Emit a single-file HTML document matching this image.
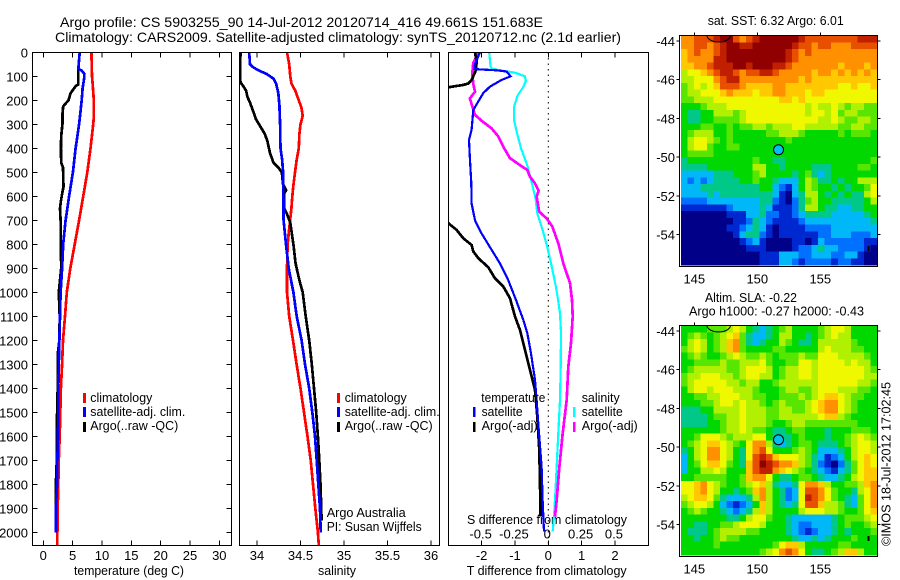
<!DOCTYPE html>
<html>
<head>
<meta charset="utf-8">
<title>Argo profile</title>
<style>
html,body{margin:0;padding:0;background:#fff}
svg{display:block}
text{font-family:"Liberation Sans",sans-serif;font-size:13px;fill:#000}
.big{font-size:14px}
</style>
</head>
<body>
<svg id="chart" xmlns="http://www.w3.org/2000/svg" width="900" height="580" viewBox="0 0 900 580">
<rect x="0" y="0" width="900" height="580" fill="#fff"/>
<defs>
<clipPath id="clip1"><rect x="32" y="52" width="199.5" height="493.5"/></clipPath>
<clipPath id="clip2"><rect x="239" y="52" width="200.5" height="493.5"/></clipPath>
<clipPath id="clip3"><rect x="448" y="52" width="200.5" height="493.5"/></clipPath>
<clipPath id="clipM1"><rect x="679" y="35" width="198.5" height="232"/></clipPath>
<clipPath id="clipM2"><rect x="679" y="325" width="198.5" height="232"/></clipPath>
</defs>
<text class="big" x="60" y="27" textLength="483" lengthAdjust="spacingAndGlyphs">Argo profile: CS 5903255_90 14-Jul-2012 20120714_416 49.661S 151.683E</text>
<text class="big" x="55" y="42" textLength="566" lengthAdjust="spacingAndGlyphs">Climatology: CARS2009. Satellite-adjusted climatology: synTS_20120712.nc (2.1d earlier)</text>

<text x="74" y="575" textLength="110" lengthAdjust="spacingAndGlyphs">temperature (deg C)</text>
<text x="318" y="575" textLength="38" lengthAdjust="spacingAndGlyphs">salinity</text>
<text x="466.7" y="575" textLength="160" lengthAdjust="spacingAndGlyphs">T difference from climatology</text>
<text x="467" y="524" textLength="160" lengthAdjust="spacingAndGlyphs">S difference from climatology</text>

<g id="plots"></g>

<g>
<rect x="83" y="393" width="3" height="10" fill="#ff0000"/>
<rect x="83" y="407" width="3" height="10" fill="#0000ff"/>
<rect x="83" y="422" width="3" height="10" fill="#000"/>
<text x="90.3" y="402" textLength="62" lengthAdjust="spacingAndGlyphs">climatology</text>
<text x="90.3" y="416" textLength="95" lengthAdjust="spacingAndGlyphs">satellite-adj. clim.</text>
<text x="90.3" y="430" textLength="88" lengthAdjust="spacingAndGlyphs">Argo(..raw -QC)</text>
</g>
<g>
<rect x="337" y="393" width="3" height="10" fill="#ff0000"/>
<rect x="337" y="407" width="3" height="10" fill="#0000ff"/>
<rect x="337" y="422" width="3" height="10" fill="#000"/>
<text x="344.7" y="402" textLength="62" lengthAdjust="spacingAndGlyphs">climatology</text>
<text x="344.7" y="416" textLength="95" lengthAdjust="spacingAndGlyphs">satellite-adj. clim.</text>
<text x="344.7" y="430" textLength="88" lengthAdjust="spacingAndGlyphs">Argo(..raw -QC)</text>
<text x="326.7" y="517" textLength="79" lengthAdjust="spacingAndGlyphs">Argo Australia</text>
<text x="326.7" y="531" textLength="95" lengthAdjust="spacingAndGlyphs">PI: Susan Wijffels</text>
</g>
<g>
<text x="481.3" y="402" textLength="64" lengthAdjust="spacingAndGlyphs">temperature</text>
<rect x="473" y="407" width="2.5" height="10" fill="#0000ff"/>
<rect x="473" y="422" width="2.5" height="10" fill="#000"/>
<text x="481.6" y="416" textLength="41" lengthAdjust="spacingAndGlyphs">satellite</text>
<text x="481.6" y="430" textLength="56" lengthAdjust="spacingAndGlyphs">Argo(-adj)</text>
<text x="581.7" y="402" textLength="38" lengthAdjust="spacingAndGlyphs">salinity</text>
<rect x="573" y="407" width="2.5" height="10" fill="#00ffff"/>
<rect x="573" y="422" width="2.5" height="10" fill="#ff00ff"/>
<text x="581.7" y="416" textLength="41" lengthAdjust="spacingAndGlyphs">satellite</text>
<text x="581.7" y="430" textLength="56" lengthAdjust="spacingAndGlyphs">Argo(-adj)</text>
</g>

<text x="707.7" y="25" textLength="136" lengthAdjust="spacingAndGlyphs">sat. SST: 6.32 Argo: 6.01</text>
<text x="705" y="302" textLength="92" lengthAdjust="spacingAndGlyphs">Altim. SLA: -0.22</text>
<text x="689" y="315.5" textLength="175" lengthAdjust="spacingAndGlyphs">Argo h1000: -0.27 h2000: -0.43</text>
<text transform="translate(890.5,546) rotate(-90)" x="0" y="0" textLength="164" lengthAdjust="spacingAndGlyphs">©IMOS 18-Jul-2012 17:02:45</text>
</svg>

<script>
/* ---------- profile axis tick values ---------- */
const depthTicks = [0,100,200,300,400,500,600,700,800,900,1000,1100,1200,1300,1400,1500,1600,1700,1800,1900,2000];
const tempTicks = [0,5,10,15,20,25,30];
const salTicks = [34,34.5,35,35.5,36];
const salTickLabels = ['34','34.5','35','35.5','36'];
const tdiffTicks = [-2,-1,0,1,2];
const sdiffTicks = [-0.5,-0.25,0,0.25,0.5];
const sdiffTickLabels = ['-0.5','-0.25','0','0.25','0.5'];

/* ---------- temperature panel ---------- */
const climDepth = [0,100,130,200,270,300,400,500,600,700,800,900,1000,1100,1200,1300,1400,1500,1600,1700,1800,1900,2000,2054];
const climTemp = [8.2,8.3,8.4,8.6,8.6,8.5,8.05,7.5,6.8,6.1,5.35,4.6,4.0,3.7,3.35,3.2,3.0,2.9,2.8,2.65,2.55,2.45,2.4,2.4];
const satDepth = [0,60,70,75,90,110,150,200,300,400,500,600,700,800,900,1000,1100,1200,1300,1400,1500,1600,1700,1800,1900,2000];
const satTemp = [6.2,6.0,6.0,6.5,7.0,6.95,6.7,6.55,6.1,5.5,5.05,4.4,3.8,3.4,3.2,2.95,2.85,2.75,2.65,2.55,2.55,2.5,2.4,2.35,2.15,2.15];
const argoDepth = [70,135,140,170,200,225,260,300,350,400,460,480,560,590,620,650,700,800,900,950,1000,1100,1200,1260,1400,1560,1700,1830,1950];
const argoTemp = [5.95,5.95,5.55,4.65,4.3,3.4,3.25,3.25,3.05,3.0,3.05,3.35,3.45,3.2,3.0,2.85,2.95,3.0,3.05,2.85,2.65,2.8,2.75,2.45,2.45,2.3,2.3,2.1,2.1];

/* ---------- salinity panel ---------- */
const climSalDepth = [0,50,100,130,160,190,230,265,300,340,400,450,500,550,600,650,700,750,800,900,1000,1100,1200,1300,1400,1500,1600,1700,1800,1900,2000,2054];
const climSal = [34.345,34.37,34.383,34.395,34.44,34.47,34.51,34.525,34.5,34.487,34.48,34.455,34.437,34.42,34.406,34.395,34.38,34.365,34.352,34.345,34.345,34.37,34.414,34.455,34.5,34.54,34.58,34.617,34.644,34.67,34.7,34.71];
const satSalDepth = [0,50,60,75,90,110,130,170,220,300,400,450,500,600,700,800,900,1000,1100,1200,1300,1400,1500,1600,1700,1800,1900,2000];
const satSal = [33.91,33.92,33.946,34.015,34.11,34.19,34.22,34.245,34.257,34.265,34.27,34.29,34.3,34.303,34.306,34.333,34.364,34.418,34.456,34.513,34.552,34.6,34.636,34.667,34.686,34.705,34.724,34.732];
const argoSalDepth = [0,100,125,140,160,185,210,240,280,310,340,370,420,460,480,500,550,575,590,650,670,710,800,880,950,1000,1100,1200,1300,1400,1500,1600,1700,1800,1950];
const argoSal = [33.81,33.805,33.81,33.84,33.875,33.89,33.92,33.95,33.99,34.04,34.09,34.12,34.15,34.19,34.245,34.285,34.3,34.335,34.31,34.31,34.34,34.383,34.418,34.444,34.487,34.525,34.56,34.6,34.63,34.655,34.68,34.7,34.716,34.73,34.743];

/* ---------- difference panel ---------- */
const satTdiffDepth = [0,50,70,75,80,100,115,143,170,205,240,323,365,450,546,630,700,755,823,880,950,1032,1115,1170,1254,1365,1448,1587,1726,1865,1997];
const satTdiff = [-2.05,-2.2,-2.22,-1.55,-1.25,-1.13,-1.4,-1.75,-1.95,-2.1,-2.25,-2.3,-2.38,-2.35,-2.31,-2.3,-2.2,-2.0,-1.7,-1.45,-1.2,-0.97,-0.75,-0.63,-0.52,-0.4,-0.35,-0.28,-0.2,-0.17,-0.13];
const argoTdiffDepth = [0,39,74,115,130,136,146,200,300,400,500,600,712,740,775,803,830,858,896,942,976,1025,1101,1157,1240,1324,1407,1518,1657,1796,1935];
const argoTdiff = [-2.2,-2.15,-2.17,-2.3,-2.4,-2.55,-3,-4.3,-5.25,-5.05,-4.15,-3.7,-3,-2.75,-2.55,-2.3,-2.25,-2.1,-1.8,-1.6,-1.35,-1.15,-1.0,-0.85,-0.7,-0.55,-0.4,-0.33,-0.27,-0.25,-0.23];
const satSdiffDepth = [0,60,67,75,85,100,120,145,180,230,280,330,400,470,540,610,670,740,810,890,970,1030,1087,1170,1310,1448,1587,1726,1865,1935,1997];
const satSdiff = [-0.443,-0.433,-0.425,-0.363,-0.25,-0.175,-0.168,-0.188,-0.23,-0.258,-0.258,-0.238,-0.205,-0.158,-0.125,-0.095,-0.083,-0.043,-0.008,0.025,0.055,0.073,0.088,0.095,0.093,0.088,0.075,0.063,0.05,0.043,0.033];
const argoSdiffDepth = [0,46,88,130,164,192,226,261,285,317,351,393,441,470,490,518,546,576,601,664,692,726,796,880,962,1032,1101,1212,1310,1448,1587,1726,1865,1935];
const argoSdiff = [-0.525,-0.563,-0.57,-0.563,-0.55,-0.588,-0.57,-0.55,-0.5,-0.425,-0.375,-0.338,-0.288,-0.213,-0.158,-0.138,-0.1,-0.073,-0.088,-0.068,-0.013,0.03,0.075,0.113,0.163,0.178,0.183,0.17,0.15,0.138,0.108,0.083,0.063,0.05];

/* ---------- map tick values ---------- */
const lonTicks = [145,150,155];
const latTicks = [-44,-46,-48,-50,-52,-54];
const floatLon = [151.683];
const floatLat = [-49.62];

/* ---------- colour levels of the two maps (0 = navy ... 13 = dark red) ---------- */
const mapLevelColors = ['#000088','#0028d0','#0070ff','#00b8f8','#00c888','#00d800','#58e600','#b0f000','#f0f800','#ffc800','#ff9000','#e85000','#c02000','#900000'];
const sstGrid = [
[10,10,11,11,11,12,13,13,11,10,11,12,13,13,13,13,13,13,12,11,11,11,11,11,11,11,11,12,12,12],
[10,10,11,11,10,11,12,13,13,12,12,13,13,13,13,13,13,12,11,11,10,11,11,10,10,10,11,11,11,11],
[9,10,11,10,10,11,12,13,13,13,13,13,13,13,13,13,12,11,10,11,10,10,10,10,10,10,10,10,10,10],
[9,10,10,10,10,12,12,13,13,13,13,13,13,13,13,13,12,11,10,10,10,10,10,10,10,10,10,10,10,10],
[9,9,10,10,11,12,12,12,13,13,12,13,13,13,12,12,11,10,10,10,10,10,10,10,9,10,10,10,9,10],
[7,8,8,9,10,11,12,12,11,10,11,11,12,12,11,10,10,10,10,10,9,10,10,9,10,9,10,9,10,9],
[7,7,8,8,8,10,11,12,12,10,10,10,10,10,10,10,10,10,9,10,9,9,9,9,9,9,9,9,9,9],
[6,7,8,7,8,9,11,11,11,10,9,9,9,9,10,10,9,9,9,9,9,9,9,9,8,8,9,8,8,9],
[6,7,7,8,8,8,9,10,9,9,9,8,9,9,10,10,9,9,9,8,9,9,8,8,8,8,8,8,8,8],
[6,6,7,7,7,8,8,8,8,8,8,8,8,8,8,9,9,8,9,8,8,8,8,8,8,8,8,8,8,8],
[5,5,5,6,7,7,7,8,8,8,8,8,8,8,8,8,8,8,8,7,8,7,7,8,7,6,7,7,6,6],
[5,4,4,5,5,7,7,7,6,7,8,8,8,8,8,8,8,8,8,7,8,8,7,8,6,7,7,6,6,6],
[5,4,4,5,5,6,6,6,6,7,8,8,8,8,8,8,8,8,8,8,8,7,7,8,7,6,6,7,7,6],
[5,5,5,6,6,5,5,6,5,6,6,7,7,6,7,7,7,8,8,7,7,7,7,7,6,6,7,7,6,6],
[5,6,7,7,7,5,5,6,5,5,5,5,5,6,6,7,7,7,6,5,5,5,5,5,6,5,6,6,6,5],
[5,7,8,8,7,6,5,6,5,5,5,5,5,5,5,5,6,5,5,5,5,5,5,5,5,5,5,5,5,5],
[5,7,8,8,6,5,5,6,6,5,5,5,5,5,5,5,5,5,5,5,5,5,5,5,5,5,5,5,5,5],
[5,6,6,6,6,5,5,5,5,5,5,5,5,5,5,5,5,5,5,5,5,5,5,5,5,5,5,5,5,5],
[4,5,5,5,5,5,5,5,5,5,5,6,5,5,4,4,5,5,5,5,5,5,5,5,5,5,5,5,5,6],
[4,4,4,4,5,5,5,5,5,5,5,7,7,5,5,4,5,5,5,5,4,4,4,5,5,5,5,6,6,5],
[3,3,3,3,3,4,4,4,5,5,5,6,7,5,5,5,5,4,5,6,4,3,4,5,5,5,5,5,5,5],
[3,2,3,2,3,4,4,4,4,5,5,6,5,5,4,3,3,3,5,7,6,4,4,5,4,5,5,7,7,7],
[3,3,3,4,4,4,4,4,4,4,4,4,5,5,3,2,1,3,5,7,6,5,5,4,5,4,5,5,6,8],
[3,3,3,3,4,3,4,4,4,4,4,4,4,4,3,1,0,3,4,7,7,5,4,5,4,5,4,4,7,8],
[2,2,2,2,3,3,3,3,3,3,3,3,4,4,2,1,0,2,4,6,7,5,5,4,4,4,4,4,5,7],
[1,1,1,1,1,1,1,2,3,3,3,3,4,3,1,1,1,2,4,7,7,5,4,4,3,3,4,4,5,5],
[0,0,0,0,0,0,0,1,1,1,3,3,4,2,2,1,1,2,3,4,4,4,4,3,3,3,3,3,4,5],
[0,0,0,0,0,0,0,0,1,1,2,4,3,2,1,1,1,1,2,3,3,3,3,3,3,3,3,3,3,4],
[0,0,0,0,0,0,0,1,1,2,3,4,3,1,0,1,1,1,1,2,2,2,2,3,3,3,3,3,3,3],
[0,0,0,0,0,0,0,0,1,3,4,4,2,1,0,1,1,1,1,1,1,2,2,3,3,3,2,2,2,3],
[0,0,0,0,0,0,0,0,0,1,2,3,1,0,0,0,0,1,1,0,1,3,2,2,2,2,2,2,1,1],
[0,0,0,0,0,0,0,0,0,0,1,1,1,0,0,0,0,1,2,2,3,4,3,3,2,2,2,2,1,0],
[0,0,0,0,0,0,0,0,0,0,0,0,1,1,1,3,3,3,2,2,3,3,3,2,2,3,3,1,0,0],
[0,0,0,0,0,0,0,0,0,0,0,0,1,1,1,3,3,2,1,2,2,2,2,1,2,2,1,1,0,0]
];
const slaGrid = [
[5,5,5,5,6,6,6,7,8,7,5,4,3,4,5,6,7,5,5,5,5,6,7,8,8,7,5,5,5,5],
[5,6,7,6,5,6,7,8,9,6,4,3,3,4,5,7,7,5,5,4,5,6,7,8,7,7,5,5,5,5],
[5,7,8,7,5,6,7,9,10,6,4,3,4,5,5,7,6,5,4,4,5,7,7,7,7,7,6,5,5,5],
[6,7,8,7,5,6,7,9,10,6,5,5,5,5,6,6,5,5,5,5,5,7,8,7,7,7,6,6,5,5],
[5,6,7,6,5,5,6,7,8,7,6,6,7,6,5,6,6,6,7,6,6,8,8,8,7,7,7,7,6,5],
[5,5,6,6,6,6,7,6,6,7,7,7,8,6,5,5,6,6,8,8,7,8,8,8,8,7,8,7,7,5],
[5,6,7,7,7,7,7,6,6,7,8,8,8,7,5,6,7,7,8,8,7,8,8,8,8,8,8,8,7,6],
[6,7,7,8,8,8,7,7,6,7,8,8,7,7,5,6,7,7,8,8,7,8,8,8,8,8,8,8,7,7],
[6,7,8,8,8,8,8,7,7,6,7,7,5,5,6,7,7,7,7,7,7,8,8,8,8,8,8,7,7,6],
[5,7,8,8,7,8,8,8,7,7,7,6,5,5,5,6,7,7,6,6,7,8,8,8,7,7,7,6,6,5],
[5,5,6,6,7,7,8,8,8,7,7,6,6,5,5,6,6,6,7,6,7,8,9,9,8,7,6,6,5,5],
[5,5,5,6,6,7,8,8,7,8,7,7,6,5,6,7,6,6,6,7,8,9,10,10,8,7,6,5,5,5],
[4,4,4,5,5,7,7,7,7,8,7,7,7,6,6,7,7,6,6,7,8,9,10,10,8,7,6,5,5,5],
[4,4,4,4,5,6,6,7,7,8,7,7,7,6,6,7,7,7,7,7,7,8,9,9,7,6,5,5,5,5],
[4,4,4,4,5,5,6,7,7,8,7,7,7,6,5,5,6,7,7,6,6,6,6,6,6,6,6,5,5,5],
[5,5,5,5,5,5,6,7,7,8,7,6,6,5,4,4,5,6,6,5,5,5,4,5,5,5,6,6,6,5],
[5,5,6,8,8,8,7,6,7,7,7,8,8,5,4,4,4,5,6,5,5,5,4,5,5,6,7,8,7,6],
[5,6,7,8,9,9,8,7,6,5,8,10,10,7,4,3,4,5,6,6,5,4,4,4,5,6,7,8,8,7],
[4,5,7,8,10,10,8,7,5,4,8,10,11,8,5,5,5,6,7,6,5,3,3,3,4,5,7,8,8,7],
[3,5,7,8,10,10,8,7,5,4,8,11,12,11,9,8,8,8,7,6,4,3,1,2,3,5,7,8,9,8],
[3,5,6,8,9,9,8,6,5,4,9,11,13,12,11,10,10,9,7,6,4,2,1,0,2,4,6,8,9,8],
[3,5,5,7,7,8,7,5,5,5,9,11,12,12,10,9,8,7,6,5,4,3,2,1,3,4,6,8,9,9],
[5,5,6,6,6,6,6,5,5,6,9,10,10,8,5,4,4,5,6,6,5,4,3,3,4,5,7,8,9,9],
[8,8,9,10,8,7,6,5,5,6,7,8,9,7,4,3,3,4,8,10,10,9,7,5,5,6,6,7,9,10],
[8,8,9,10,8,7,5,5,4,5,6,9,10,7,5,4,2,3,8,11,11,10,8,6,5,5,4,7,8,10],
[7,8,9,9,8,6,4,3,3,3,4,7,10,7,5,4,2,3,8,12,11,10,8,6,5,4,3,6,8,10],
[6,7,8,8,7,5,3,2,1,2,3,5,9,7,5,4,3,4,8,11,11,9,7,7,6,4,3,6,8,10],
[5,6,7,6,5,5,4,3,2,3,4,7,9,7,5,5,5,5,7,8,8,8,7,7,6,5,5,6,8,9],
[5,5,5,5,5,5,5,4,4,5,7,8,8,6,5,5,4,3,3,3,3,3,3,4,5,6,6,6,7,8],
[5,5,4,4,5,5,6,6,7,8,8,8,7,5,5,5,4,3,2,2,3,3,3,4,5,6,5,5,6,7],
[5,4,4,4,5,6,7,7,7,7,6,6,5,5,5,5,4,3,2,1,2,3,3,4,5,4,5,5,5,6],
[5,5,4,5,5,6,7,6,6,5,5,5,5,5,5,5,5,4,3,3,4,3,4,5,5,5,6,5,5,5],
[5,5,5,5,5,6,5,5,5,5,5,5,5,5,6,8,9,9,7,5,5,5,5,5,6,6,5,5,5,5],
[5,5,5,5,5,5,5,5,5,5,5,5,6,7,8,10,11,10,8,5,4,4,5,6,7,9,9,7,5,5]
];

/* ---------- helpers ---------- */
const NS = 'http://www.w3.org/2000/svg';
const plots = document.getElementById('plots');
function mk(tag, attrs, parent, txt) {
  const e = document.createElementNS(NS, tag);
  for (const k in attrs) e.setAttribute(k, attrs[k]);
  if (txt !== undefined) e.textContent = txt;
  (parent || plots).appendChild(e);
  return e;
}
function yDepth(d) { return 52.3 + 0.24 * d; }
function xTemp(t) { return 43.3 + 5.867 * t; }
function xSal(s) { return 257 + 87 * (s - 34); }
function xTd(t) { return 548.3 + 33.33 * t; }
function xSd(s) { return 548.3 + 133.33 * s; }
function xLon(lon) { return 694.3 + 12.6 * (lon - 145); }
function yLat1(lat) { return 41 + 19.35 * (-44 - lat); }
function yLat2(lat) { return 331 + 19.35 * (-44 - lat); }
function linePath(xs, ys, xf) {
  return xs.map((v, i) => (i ? 'L' : 'M') + xf(v).toFixed(1) + ' ' + yDepth(ys[i]).toFixed(1)).join('');
}
function profile(name, xs, ys, xf, color, w, clip) {
  const p = mk('path', {d: linePath(xs, ys, xf), fill: 'none', stroke: color, 'stroke-width': w, 'clip-path': 'url(#' + clip + ')', 'shape-rendering': 'crispEdges'});
  
  
}
function tick(name, x1, y1, x2, y2) {
  const t = mk('line', {x1: x1, y1: y1, x2: x2, y2: y2, stroke: '#000', 'stroke-width': 1, 'shape-rendering': 'crispEdges'});
  
  
}
function label(name, x, y, anchor, txt) {
  const t = mk('text', {x: x, y: y, 'text-anchor': anchor}, plots, txt);
  
  
}
function frame(name, x, y, w, h) {
  const r = mk('rect', {x: x, y: y, width: w, height: h, fill: 'none', stroke: '#000', 'stroke-width': 1.2, 'shape-rendering': 'crispEdges'});
  
  
}

/* ---------- temperature panel ---------- */
profile('climatology-temperature-line', climTemp, climDepth, xTemp, '#ff0000', 2.7, 'clip1');
profile('argo-temperature-line', argoTemp, argoDepth, xTemp, '#000000', 2.7, 'clip1');
profile('satellite-temperature-line', satTemp, satDepth, xTemp, '#0000ff', 2.7, 'clip1');
frame('temperature-plot-frame', 32.5, 52.5, 199, 493);
depthTicks.forEach(d => {
  tick('depth-tick', 32.5, yDepth(d), 37.5, yDepth(d));
  tick('depth-tick', 231.5, yDepth(d), 226.5, yDepth(d));
  label('depth-tick-label', 28, yDepth(d) + 5, 'end', String(d));
});
tempTicks.forEach(t => {
  tick('temperature-tick', xTemp(t), 52.5, xTemp(t), 57.5);
  tick('temperature-tick', xTemp(t), 545.5, xTemp(t), 540.5);
  label('temperature-tick-label', xTemp(t), 560, 'middle', String(t));
});

/* ---------- salinity panel ---------- */
profile('climatology-salinity-line', climSal, climSalDepth, xSal, '#ff0000', 2.7, 'clip2');
profile('argo-salinity-line', argoSal, argoSalDepth, xSal, '#000000', 2.7, 'clip2');
profile('satellite-salinity-line', satSal, satSalDepth, xSal, '#0000ff', 2.7, 'clip2');
frame('salinity-plot-frame', 239.5, 52.5, 200, 493);
salTicks.forEach((s, i) => {
  tick('salinity-tick', xSal(s), 52.5, xSal(s), 57.5);
  tick('salinity-tick', xSal(s), 545.5, xSal(s), 540.5);
  label('salinity-tick-label', xSal(s), 560, 'middle', salTickLabels[i]);
});

/* ---------- difference panel ---------- */
const zero = mk('line', {x1: xTd(0), y1: 52.5, x2: xTd(0), y2: 545.5, stroke: '#000', 'stroke-width': 1, 'stroke-dasharray': '1.5 4'});


profile('satellite-salinity-difference-line', satSdiff, satSdiffDepth, xSd, '#00ffff', 2.2, 'clip3');
profile('argo-salinity-difference-line', argoSdiff, argoSdiffDepth, xSd, '#ff00ff', 2.7, 'clip3');
profile('argo-temperature-difference-line', argoTdiff, argoTdiffDepth, xTd, '#000000', 2.7, 'clip3');
profile('satellite-temperature-difference-line', satTdiff, satTdiffDepth, xTd, '#0000ff', 2.2, 'clip3');
frame('difference-plot-frame', 448.5, 52.5, 200, 493);
tdiffTicks.forEach(t => {
  tick('t-difference-tick', xTd(t), 52.5, xTd(t), 57.5);
  tick('t-difference-tick', xTd(t), 545.5, xTd(t), 540.5);
  label('t-difference-tick-label', xTd(t), 560, 'middle', String(t));
});
sdiffTicks.forEach((s, i) => {
  label('s-difference-tick-label', xSd(s) - 1, 538.5, 'middle', sdiffTickLabels[i]);
});

/* ---------- maps ---------- */
function drawMap(prefix, grid, top, height, yLat, clip) {
  const left = 680.8, width = 196.2;
  const rows = grid.length, cols = grid[0].length;
  const cw = width / cols, ch = (height - 1.5) / rows;
  grid.forEach((row, r) => {
    row.forEach((v, c) => {
      const cell = mk('rect', {x: (left + c * cw).toFixed(2), y: (top + r * ch).toFixed(2), width: (cw + 0.4).toFixed(2), height: (ch + 0.4).toFixed(2), fill: mapLevelColors[v], 'shape-rendering': 'crispEdges'});
      
      
    });
  });
  const coast = mk('ellipse', {cx: 718.7, cy: top, rx: 11.7, ry: 6.4, fill: 'none', stroke: '#000', 'stroke-width': 1, 'clip-path': 'url(#' + clip + ')'});
  
  
  const mark = mk('rect', {x: 867.5, y: top + 210.5, width: 2, height: 5, fill: '#000'});
  
  
  const dot = mk('circle', {cx: xLon(floatLon[0]), cy: yLat(floatLat[0]), r: 5, fill: '#00c0f0', stroke: '#000', 'stroke-width': 1});
  
  
  frame(prefix + '-map-frame', 679.5, top, 198, height);
  lonTicks.forEach(l => {
    tick(prefix + '-longitude-tick', xLon(l), top, xLon(l), top - 3);
    label(prefix + '-longitude-tick-label', xLon(l), top + height + 17, 'middle', String(l));
  });
  latTicks.forEach(l => {
    tick(prefix + '-latitude-tick', 679.5, yLat(l), 676.5, yLat(l));
    tick(prefix + '-latitude-tick', 877.5, yLat(l), 880.5, yLat(l));
    label(prefix + '-latitude-tick-label', 675, yLat(l) + 5, 'end', String(l));
  });
}
drawMap('sst', sstGrid, 35.5, 231, yLat1, 'clipM1');
drawMap('sla', slaGrid, 325.5, 231, yLat2, 'clipM2');
</script>
</body>
</html>
